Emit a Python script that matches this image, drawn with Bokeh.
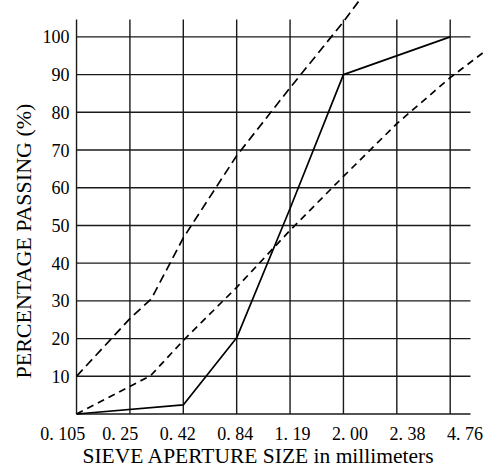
from bokeh.plotting import figure
from bokeh.models import Range1d, FixedTicker, Title
from bokeh.embed import file_html
from bokeh.resources import INLINE

# --- data (x = position of the sieve on the evenly spaced axis) ---
sieve_labels = ["0. 105", "0. 25", "0. 42", "0. 84", "1. 19", "2. 00", "2. 38", "4. 76"]
y_ticks = [10, 20, 30, 40, 50, 60, 70, 80, 90, 100]

sample_x = [0, 2, 3, 4, 5, 7]
sample_y = [0, 2.4, 20.2, 54.5, 90, 100]

upper_x = [0, 1, 1.4, 2, 3, 4, 5, 5.3]
upper_y = [10, 25.3, 30.5, 46.7, 68.5, 86.5, 104, 109.7]

lower_x = [0, 1.39, 2, 3, 4, 5, 6, 7, 7.68]
lower_y = [0, 10.2, 19.5, 33.6, 48.7, 63, 77, 89.2, 96.5]

FONT = "Liberation Serif"
INK = "#1a1a1a"

p = figure(width=486, height=475, output_backend="svg", toolbar_location=None,
           x_range=Range1d(-0.675, 7.68), y_range=Range1d(-0.66, 109.65),
           min_border_left=40, min_border_right=0, min_border_top=0,
           min_border_bottom=59)
p.outline_line_color = None
p.background_fill_color = "white"
p.border_fill_color = "white"
p.xgrid.visible = False
p.ygrid.visible = False

n = len(sieve_labels)
grid_top = 104.6
grid_right = n - 1 + 0.38
p.segment(x0=list(range(n)), y0=[0] * n, x1=list(range(n)), y1=[grid_top] * n,
          line_color=INK, line_width=1.4)
hy = [0] + y_ticks
p.segment(x0=[0] * len(hy), y0=hy, x1=[grid_right] * len(hy), y1=hy,
          line_color=INK, line_width=1.4)

p.line(sample_x, sample_y, line_color="black", line_width=1.7)
p.line(upper_x, upper_y, line_color="black", line_width=1.7, line_dash="9 5")
p.line(lower_x, lower_y, line_color="black", line_width=1.7, line_dash="7 5")

# printed labels sit on a slightly wider pitch than the grid
label_pos = [i * 1.077 - 0.26 for i in range(n)]
p.xaxis.ticker = FixedTicker(ticks=label_pos)
p.xaxis.major_label_overrides = {pos: lab for pos, lab in zip(label_pos, sieve_labels)}
p.yaxis.ticker = FixedTicker(ticks=y_ticks)
p.yaxis.fixed_location = -0.13

for ax in (p.xaxis[0], p.yaxis[0]):
    ax.axis_line_color = None
    ax.major_tick_line_color = None
    ax.minor_tick_line_color = None
    ax.major_tick_out = 0
    ax.major_tick_in = 0
    ax.minor_tick_out = 0
    ax.major_label_text_font = FONT
    ax.major_label_text_font_size = "18px"
    ax.major_label_text_color = "black"

p.xaxis.major_label_standoff = 7
p.yaxis.major_label_standoff = 0

xt = Title(text="SIEVE APERTURE SIZE in millimeters", align="left", offset=42,
           text_font=FONT, text_font_size="21.5px", text_font_style="normal",
           text_color="black", standoff=-10)
p.add_layout(xt, "below")

yt = Title(text="PERCENTAGE PASSING (%)", align="left", offset=38,
           text_font=FONT, text_font_size="22px", text_font_style="normal",
           text_color="black", standoff=10)
p.add_layout(yt, "left")

open("out.html", "w").write(file_html(p, INLINE))
